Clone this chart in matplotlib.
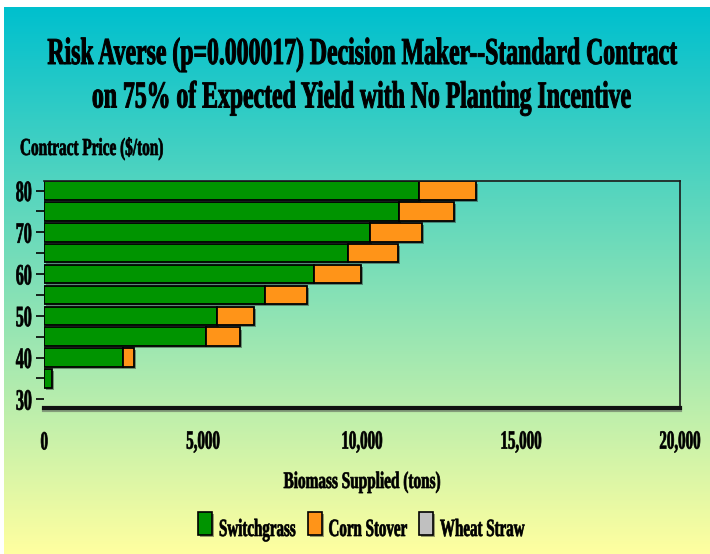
import matplotlib
matplotlib.use("Agg")
import matplotlib.pyplot as plt
import matplotlib.patheffects as pe
from matplotlib.patches import Rectangle
from matplotlib.transforms import Affine2D
import numpy as np

# contract price ($/ton) and tons supplied by feedstock
prices = [35, 40, 45, 50, 55, 60, 65, 70, 75, 80]
switchgrass = [230, 2470, 5090, 5420, 6940, 8480, 9560, 10240, 11160, 11790]
corn_stover = [0, 350, 1060, 1180, 1310, 1490, 1560, 1640, 1720, 1780]
wheat_straw = [0, 0, 0, 0, 0, 0, 0, 0, 0, 0]

series_names = ["Switchgrass", "Corn Stover", "Wheat Straw"]
series_colors = ["#009400", "#FF9418", "#C0C0C0"]

x_ticks = [0, 5000, 10000, 15000, 20000]
y_ticks = [30, 40, 50, 60, 70, 80]

title_lines = ["Risk Averse (p=0.000017) Decision Maker--Standard Contract",
               "on 75% of Expected Yield with No Planting Incentive"]

plt.rcParams["font.family"] = ["Liberation Serif", "DejaVu Serif"]
plt.rcParams["font.weight"] = "bold"

W, H = 710, 554


class Tall(pe.AbstractPathEffect):
    """Stretch glyph outlines vertically (tall condensed type) and thicken strokes a little."""
    def __init__(self, sy=1.6, anchor="baseline", heavy=0.5):
        super().__init__()
        self.sy = sy
        self.anchor = anchor
        self.heavy = heavy

    def draw_path(self, renderer, gc, tpath, affine, rgbFace=None):
        if self.anchor == "middle":
            ext = tpath.get_extents(affine)
            y0 = 0.5 * (ext.y0 + ext.y1)
        else:
            y0 = affine.transform((0, 0))[1]
        stretch = Affine2D().translate(0, -y0).scale(1, self.sy).translate(0, y0)
        gc0 = renderer.new_gc()
        gc0.copy_properties(gc)
        if rgbFace is not None:
            gc0.set_foreground(rgbFace)
        gc0.set_linewidth(self.heavy)
        renderer.draw_path(gc0, tpath, affine + stretch, rgbFace)
        gc0.restore()


def fx(px):
    return px / W


def fy(py):
    return 1 - py / H


fig = plt.figure(figsize=(W / 100, H / 100), dpi=100)

# teal-to-pale-yellow backdrop
bg = fig.add_axes([fx(4), 0, 1 - fx(4), fy(7)], zorder=0)
top = np.array([0, 192, 206]) / 255
bot = np.array([255, 255, 160]) / 255
t = np.linspace(0, 1, 256)[:, None, None]
bg.imshow(top * (1 - t) + bot * t, aspect="auto", extent=[0, 1, 0, 1])
bg.axis("off")

ax = fig.add_axes([fx(44.3), fy(408), fx(680.3) - fx(44.3), fy(181) - fy(408)], zorder=1)
ax.set_facecolor("none")

shadow = [pe.SimplePatchShadow(offset=(1.5, -1.5), shadow_rgbFace="0.15", alpha=0.45), pe.Normal()]
left = np.zeros(len(prices))
for vals, name, col in zip([switchgrass, corn_stover, wheat_straw], series_names, series_colors):
    vals = np.array(vals, dtype=float)
    bars = ax.barh(prices, vals, left=left, height=4.4, color=col,
                   edgecolor=["black" if v > 0 else "none" for v in vals],
                   linewidth=1.3, label=name, zorder=2)
    for b, v in zip(bars, vals):
        if v > 0:
            b.set_path_effects(shadow)
    left += vals

ax.set_xlim(0, 20000)
ax.set_ylim(27.9, 82.3)
ax.set_xticks(x_ticks)
ax.set_xticklabels([f"{v:,}" for v in x_ticks])
ax.set_yticks(y_ticks)
ax.set_yticks([v + 5 for v in y_ticks[:-1]], minor=True)
ax.tick_params(axis="y", which="both", direction="out", length=6, width=1.2, pad=3,
               labelsize=11.5, colors="black")
ax.tick_params(axis="x", length=0, pad=20, labelsize=10.8)

for lbl in ax.get_yticklabels():
    lbl.set_path_effects([Tall(1.85, "middle")])
for lbl in ax.get_xticklabels():
    lbl.set_path_effects([Tall(1.75, "middle")])

ax.spines["left"].set_visible(False)
for s in ["top", "right"]:
    ax.spines[s].set_linewidth(1.2)
    ax.spines[s].set_color("#1a1a1a")
ax.spines["bottom"].set_linewidth(3)
ax.spines["bottom"].set_color("#111111")
ax.spines["bottom"].set_path_effects(
    [pe.SimpleLineShadow(offset=(0, -1.5), shadow_color="0.3", alpha=0.5), pe.Normal()])

# titles and axis captions
fig.text(fx(362), fy(64), title_lines[0], ha="center", va="baseline", fontsize=17.1,
         path_effects=[Tall(1.6, heavy=0.7)])
fig.text(fx(362), fy(107.5), title_lines[1], ha="center", va="baseline", fontsize=17.1,
         path_effects=[Tall(1.6, heavy=0.7)])
fig.text(fx(20), fy(155), "Contract Price ($/ton)", ha="left", va="baseline", fontsize=11,
         path_effects=[Tall(1.6)])
fig.text(fx(362), fy(488), "Biomass Supplied (tons)", ha="center", va="baseline", fontsize=11,
         path_effects=[Tall(1.55)])

# legend row
swatch_x = [197.5, 307.5, 419]
label_x = [219, 328.5, 440]
for sx_, lx, name, col in zip(swatch_x, label_x, series_names, series_colors):
    fig.add_artist(Rectangle((fx(sx_), fy(535)), fx(14), fy(512) - fy(535),
                             transform=fig.transFigure, facecolor=col, edgecolor="black",
                             linewidth=1.2, path_effects=shadow))
    fig.text(fx(lx), fy(536), name, ha="left", va="baseline", fontsize=10.8,
             path_effects=[Tall(1.65)])

fig.savefig("out.png", dpi=100)
